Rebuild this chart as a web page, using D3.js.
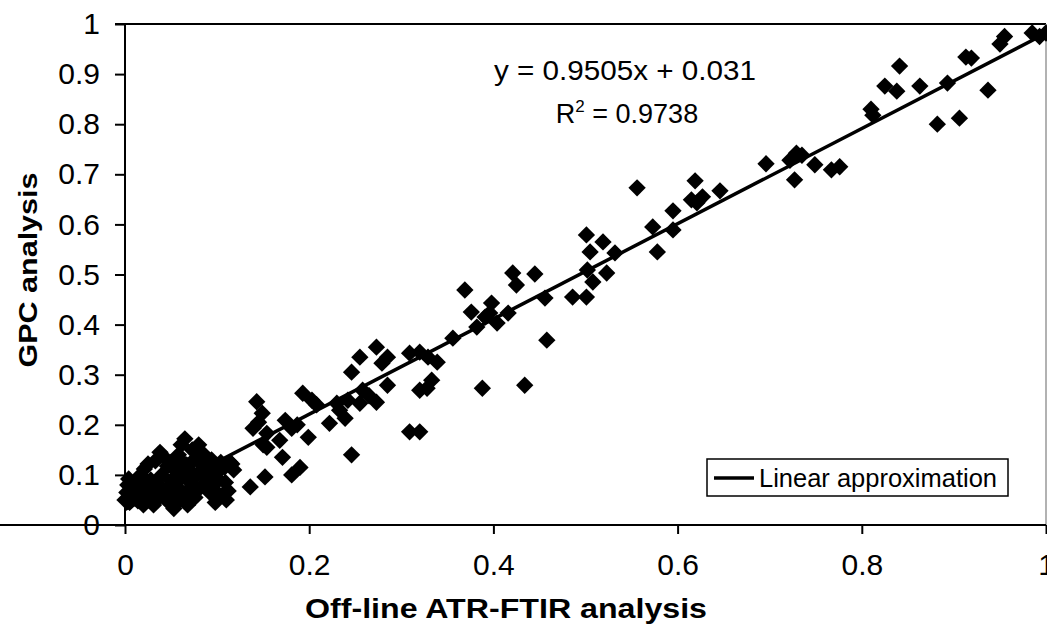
<!DOCTYPE html>
<html>
<head>
<meta charset="utf-8">
<script src="https://cdn.jsdelivr.net/npm/d3@7"></script>
<style>
  body { margin: 0; background: #fff; }
  svg { display: block; font-family: Arial, 'Liberation Sans', sans-serif; }
</style>
</head>
<body>
<svg id="chart" width="1047" height="640"></svg>
<script>
// measured values (x = off-line ATR-FTIR, y = GPC)
const ftir = [
  0.000, 0.002, 0.003, 0.004, 0.008, 0.010, 0.012, 0.014, 0.017, 0.019,
  0.021, 0.023, 0.025, 0.026, 0.028, 0.030, 0.031, 0.033, 0.035, 0.037,
  0.040, 0.042, 0.044, 0.046, 0.048, 0.050, 0.052, 0.053, 0.055, 0.057,
  0.058, 0.060, 0.062, 0.063, 0.065, 0.066, 0.068, 0.070, 0.071, 0.073,
  0.075, 0.076, 0.078, 0.080, 0.082, 0.084, 0.086, 0.088, 0.090, 0.092,
  0.094, 0.096, 0.098, 0.100, 0.102, 0.104, 0.106, 0.108, 0.110, 0.112,
  0.114, 0.116,
  0.005, 0.015, 0.020, 0.038, 0.045, 0.050, 0.056, 0.061, 0.067, 0.072,
  0.079, 0.085, 0.091, 0.097, 0.103, 0.109, 0.118,
  0.136, 0.152, 0.171, 0.181, 0.190, 0.246,
  0.143, 0.149, 0.139, 0.154, 0.145, 0.150, 0.154, 0.168, 0.174, 0.181,
  0.199, 0.187, 0.193, 0.203, 0.208, 0.222, 0.233, 0.239, 0.242, 0.255,
  0.258, 0.246, 0.255, 0.273, 0.285, 0.279, 0.273, 0.285, 0.230, 0.265,
  0.309, 0.320, 0.329, 0.339, 0.328, 0.333, 0.320, 0.309, 0.320, 0.356,
  0.369, 0.376, 0.382, 0.388, 0.391, 0.396, 0.398, 0.404, 0.416, 0.421,
  0.425, 0.434, 0.445, 0.456, 0.458,
  0.486, 0.501, 0.501, 0.502, 0.505, 0.508, 0.519, 0.523, 0.532, 0.556,
  0.573, 0.578, 0.595, 0.595, 0.615, 0.619, 0.621, 0.627, 0.646,
  0.696, 0.722, 0.727, 0.729, 0.735, 0.749, 0.767, 0.776,
  0.810, 0.812, 0.825, 0.838, 0.841, 0.863, 0.882, 0.893, 0.906, 0.913,
  0.919, 0.937, 0.950, 0.955, 0.985, 0.993, 1.000
];
const gpc = [
  0.050, 0.065, 0.080, 0.092, 0.058, 0.072, 0.085, 0.048, 0.100, 0.062,
  0.112, 0.078, 0.122, 0.050, 0.090, 0.065, 0.040, 0.128, 0.082, 0.055,
  0.100, 0.136, 0.070, 0.118, 0.045, 0.088, 0.060, 0.033, 0.108, 0.075,
  0.140, 0.050, 0.095, 0.125, 0.172, 0.065, 0.040, 0.110, 0.085, 0.150,
  0.130, 0.055, 0.100, 0.160, 0.075, 0.120, 0.140, 0.095, 0.110, 0.065,
  0.130, 0.120, 0.045, 0.105, 0.090, 0.125, 0.060, 0.115, 0.050, 0.068,
  0.125, 0.122,
  0.045, 0.095, 0.040, 0.145, 0.050, 0.125, 0.090, 0.160, 0.120, 0.070,
  0.135, 0.105, 0.085, 0.070, 0.115, 0.085, 0.110,
  0.076, 0.096, 0.135, 0.100, 0.115, 0.140,
  0.246, 0.223, 0.193, 0.183, 0.205, 0.160, 0.155, 0.169, 0.209, 0.193,
  0.175, 0.200, 0.263, 0.249, 0.240, 0.203, 0.229, 0.213, 0.249, 0.243,
  0.269, 0.305, 0.335, 0.355, 0.335, 0.323, 0.245, 0.279, 0.243, 0.258,
  0.343, 0.345, 0.335, 0.325, 0.273, 0.289, 0.269, 0.186, 0.186, 0.373,
  0.469, 0.425, 0.395, 0.273, 0.415, 0.423, 0.443, 0.403, 0.423, 0.503,
  0.479, 0.279, 0.501, 0.453, 0.369,
  0.455, 0.455, 0.579, 0.509, 0.545, 0.485, 0.565, 0.503, 0.543, 0.673,
  0.595, 0.545, 0.589, 0.627, 0.649, 0.687, 0.643, 0.655, 0.667,
  0.721, 0.728, 0.689, 0.742, 0.738, 0.719, 0.709, 0.715,
  0.830, 0.818, 0.876, 0.866, 0.916, 0.876, 0.800, 0.882, 0.812, 0.934,
  0.932, 0.868, 0.960, 0.975, 0.982, 0.975, 0.982
];

// linear fit shown on the chart
const slope = 0.9505;
const intercept = 0.031;
const fitRange = [0, 1];

const xTickLabels = ['0', '0.2', '0.4', '0.6', '0.8', '1'];
const yTickLabels = ['0', '0.1', '0.2', '0.3', '0.4', '0.5', '0.6', '0.7', '0.8', '0.9', '1'];

const svg = d3.select('#chart');

const x = d3.scaleLinear().domain([0, 1]).range([125, 1046]);
const y = d3.scaleLinear().domain([0, 1]).range([525, 24]);

// frame: top and right borders
svg.append('line')
  .attr('x1', 115).attr('x2', x(1))
  .attr('y1', y(1)).attr('y2', y(1))
  .attr('stroke', '#000').attr('stroke-width', 2);
svg.append('line')
  .attr('x1', x(1)).attr('x2', x(1))
  .attr('y1', y(1)).attr('y2', y(0))
  .attr('stroke', '#999').attr('stroke-width', 1.5);

// axes
const xAxis = svg.append('g')
  .attr('transform', `translate(0,${y(0)})`)
  .call(d3.axisBottom(x)
    .tickValues(xTickLabels.map(Number))
    .tickFormat((d, i) => xTickLabels[i])
    .tickSize(9)
    .tickPadding(20));

const yAxis = svg.append('g')
  .attr('transform', `translate(${x(0)},0)`)
  .call(d3.axisLeft(y)
    .tickValues(yTickLabels.map(Number))
    .tickFormat((d, i) => yTickLabels[i])
    .tickSize(10)
    .tickPadding(15));

[xAxis, yAxis].forEach(g => {
  g.select('.domain').attr('stroke', '#000').attr('stroke-width', 2);
  g.selectAll('.tick line').attr('stroke', '#000').attr('stroke-width', 2);
  g.selectAll('.tick text')
    .attr('fill', '#000')
    .style('font-size', '30px')
    .style('font-family', 'Arial, "Liberation Sans", sans-serif');
});
yAxis.select('.domain').attr('d', `M0,${y(0)}V${y(1)}`);
xAxis.select('.domain').attr('d', `M0,0H${x(1)}`);

// points
const points = ftir.map((v, i) => ({ x: v, y: gpc[i] }));
const diamond = d3.symbol(d3.symbolSquare, 150);

svg.append('g')
  .selectAll('path')
  .data(points)
  .join('path')
  .attr('d', diamond)
  .attr('transform', d => `translate(${x(d.x)},${y(d.y)}) rotate(45)`)
  .attr('fill', '#000');

// trend line
const fitLine = d3.line()
  .x(d => x(d))
  .y(d => y(slope * d + intercept));

svg.append('path')
  .datum(fitRange)
  .attr('d', fitLine)
  .attr('fill', 'none')
  .attr('stroke', '#000')
  .attr('stroke-width', 3.5);

// equation
svg.append('text')
  .attr('x', 625).attr('y', 80)
  .attr('text-anchor', 'middle')
  .attr('textLength', 262).attr('lengthAdjust', 'spacingAndGlyphs')
  .style('font-size', '27px')
  .text(`y = ${slope}x + ${intercept}`);

const r2 = svg.append('text')
  .attr('x', 627).attr('y', 123)
  .attr('text-anchor', 'middle')
  .style('font-size', '27px');
r2.append('tspan').text('R');
r2.append('tspan').attr('dy', -11).style('font-size', '17px').text('2');
r2.append('tspan').attr('dy', 11).text(' = 0.9738');

// legend
const legend = svg.append('g');
legend.append('rect')
  .attr('x', 707).attr('y', 459)
  .attr('width', 301).attr('height', 37)
  .attr('fill', '#fff')
  .attr('stroke', '#000').attr('stroke-width', 1.5);
legend.append('line')
  .attr('x1', 714).attr('x2', 754)
  .attr('y1', 478).attr('y2', 478)
  .attr('stroke', '#000').attr('stroke-width', 3.5);
legend.append('text')
  .attr('x', 759).attr('y', 487)
  .attr('textLength', 238).attr('lengthAdjust', 'spacingAndGlyphs')
  .style('font-size', '25px')
  .text('Linear approximation');

// axis titles
svg.append('text')
  .attr('x', 506).attr('y', 618)
  .attr('text-anchor', 'middle')
  .attr('textLength', 402).attr('lengthAdjust', 'spacingAndGlyphs')
  .style('font-size', '27px').style('font-weight', 'bold')
  .text('Off-line ATR-FTIR analysis');

svg.append('text')
  .attr('transform', 'translate(37,270) rotate(-90)')
  .attr('text-anchor', 'middle')
  .attr('textLength', 195).attr('lengthAdjust', 'spacingAndGlyphs')
  .style('font-size', '26px').style('font-weight', 'bold')
  .text('GPC analysis');
</script>
</body>
</html>
